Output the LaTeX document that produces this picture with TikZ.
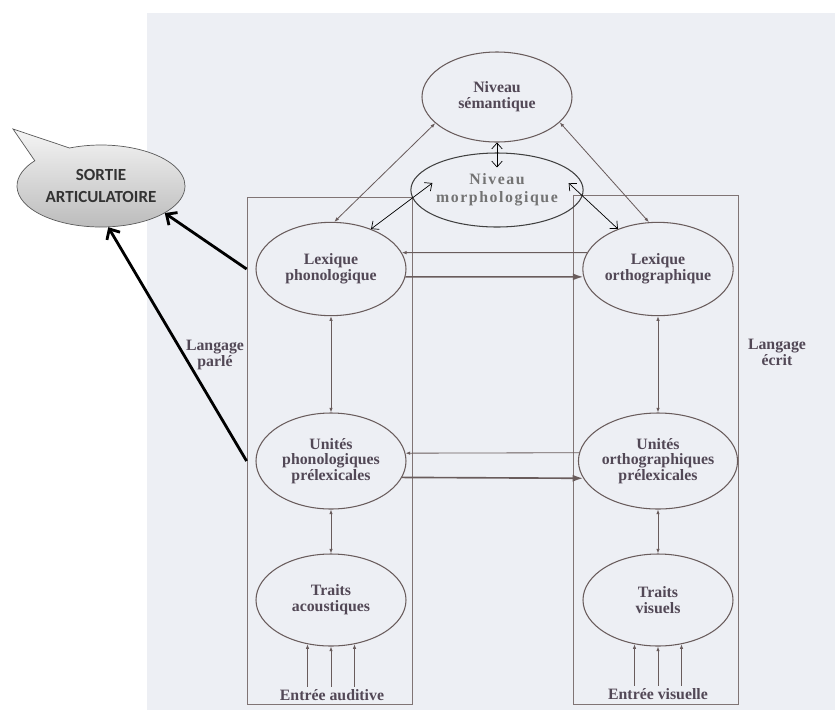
\documentclass[tikz,border=0pt]{standalone}
\usepackage{fontspec}
\setmainfont{Liberation Serif}
\newfontfamily\calibri{Carlito}
\newfontfamily\spaced[LetterSpace=10]{Liberation Serif}
\usetikzlibrary{shapes.geometric,shapes.callouts,arrows.meta}
\definecolor{scan}{RGB}{237,239,244}
\definecolor{ink}{RGB}{82,72,86}
\definecolor{pen}{RGB}{105,92,92}

\begin{document}
\begin{tikzpicture}[x=0.03cm, y=-0.03cm,
  level/.style = {ellipse, draw=pen, line width=0.9pt, inner sep=0pt,
    minimum width=4.5cm, minimum height=2.8cm, align=center, text=ink,
    font=\fontsize{13.5}{13.5}\selectfont\bfseries},
  langtext/.style = {align=center, text=ink, inner sep=2pt,
    font=\fontsize{13.5}{13.5}\selectfont\bfseries},
  column/.style = {draw=pen!85, line width=0.7pt, inner sep=0pt,
    minimum width=4.95cm},
  link/.style = {draw=pen, line width=0.7pt,
    {Latex[length=4pt,width=3pt]}-{Latex[length=4pt,width=3pt]}},
  feed/.style = {draw=pen, line width=0.7pt, -{Latex[length=4pt,width=3pt]}},
  strong/.style = {draw=pen, line width=1.4pt, -{Latex[length=9pt,width=6pt]}},
  morpholink/.style = {draw=black, line width=0.6pt,
    {Straight Barb[length=5pt,width=9pt]}-{Straight Barb[length=5pt,width=9pt]}},
  output/.style = {draw=black, line width=2.4pt,
    -{Straight Barb[length=7pt,width=13pt]}}]
  \useasboundingbox (0,0) rectangle (835,716);
  \fill[scan] (147,13) rectangle (835,710);

  \node[column, minimum height=15.21cm] (boxP) at (329.5,450.5) {};
  \node[column, minimum height=15.27cm] (boxO) at (655.5,449.5) {};

  \node[level, minimum height=2.7cm] (sem) at (497,97) {Niveau\\sémantique};
  \node[level, minimum width=4.71cm, minimum height=2.22cm, draw=black!75,
    text=black!55, font=\fontsize{13.5}{15}\selectfont\spaced\bfseries]
    (morph) at (497,190) {Niveau\\morphologique};
  \node[level] (lexP) at (331,269) {Lexique\\phonologique};
  \node[level] (lexO) at (658,269) {Lexique\\orthographique};
  \node[level, minimum height=2.88cm] (uniP) at (331,461) {Unités\\phonologiques\\prélexicales};
  \node[level, minimum height=2.88cm] (uniO) at (658,461) {Unités\\orthographiques\\prélexicales};
  \node[level, minimum height=2.76cm] (trP) at (331,600) {Traits\\acoustiques};
  \node[level, minimum height=2.76cm] (trO) at (658,600) {Traits\\visuels};

  \node[langtext] (entP) at (332,695) {Entrée auditive};
  \node[langtext] (entO) at (658,694) {Entrée visuelle};
  \node[langtext] (parle) at (215,355) {Langage\\parlé};
  \node[langtext] (ecrit) at (777,352) {Langage\\écrit};

  \node[ellipse callout, draw=black!65, line width=0.6pt,
    top color=gray!8, bottom color=gray!55,
    minimum width=5.04cm, minimum height=2.46cm, inner sep=0pt,
    callout pointer arc=30, callout absolute pointer={(13,129)},
    align=center, text=black!80,
    font=\fontsize{14.5}{18}\selectfont\calibri\bfseries]
    (sortie) at (101,186) {SORTIE\\ARTICULATOIRE};

  \draw[link] (sem.203) -- (lexP.86);
  \draw[link] (sem.338) -- (lexO.101);
  \draw[morpholink] (sem.south) -- ([shift={(0,15)}]morph.north);
  \draw[morpholink] ([shift={(22,-7)}]morph.west) -- (lexP.45);
  \draw[morpholink] ([shift={(-15,-7)}]morph.east) -- (lexO.135);

  \draw[feed] (lexO.167) -- (lexP.13);
  \draw[strong] (lexP.354) -- (lexO.186);
  \draw[feed] (uniO.174) -- (uniP.6);
  \draw[strong] (uniP.347) -- (uniO.193);

  \draw[link] (lexP) -- (uniP);
  \draw[link] (uniP) -- (trP);
  \draw[link] (lexO) -- (uniO);
  \draw[link] (uniO) -- (trO);

  \foreach \a in {242,270,298} {
    \draw[feed] (entP.north -| trP.\a) -- (trP.\a);
    \draw[feed] (entO.north -| trO.\a) -- (trO.\a);
  }

  \draw[output] (boxP.west |- lexP) -- (sortie.337);
  \draw[output] (boxP.west |- uniP) -- (sortie.280);
\end{tikzpicture}
\end{document}
